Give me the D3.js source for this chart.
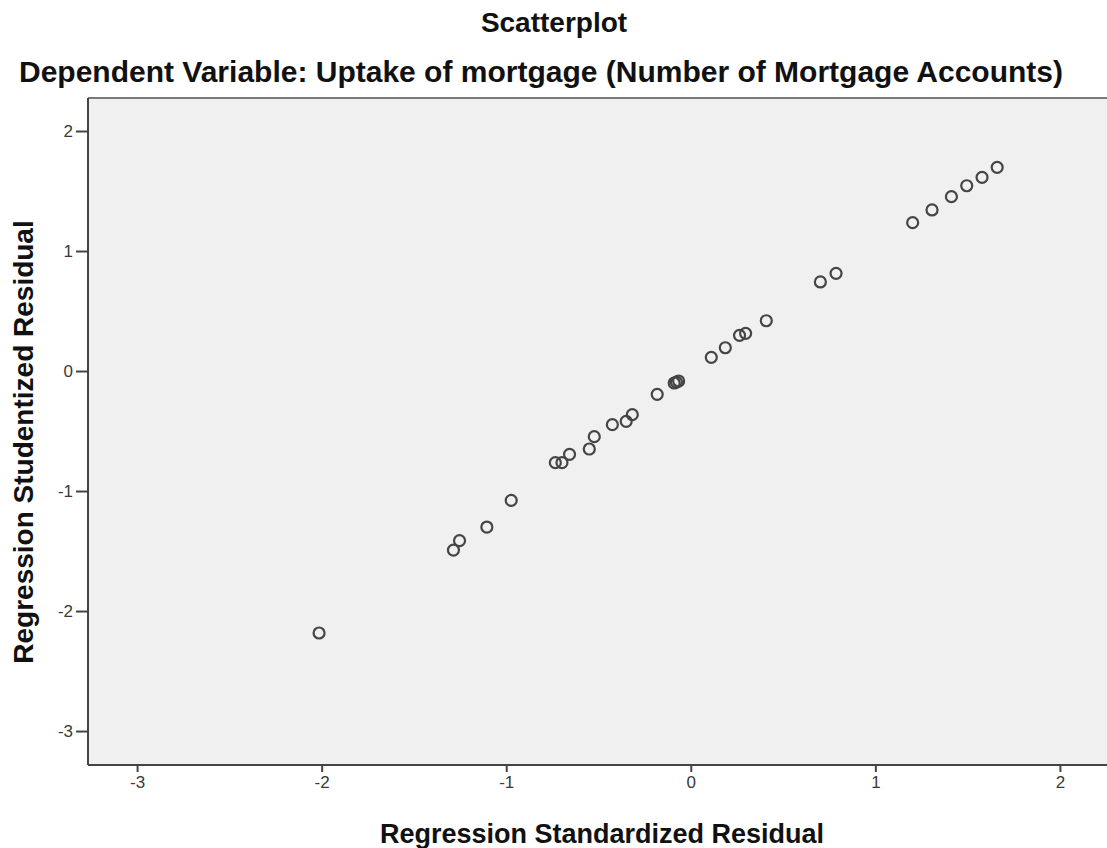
<!DOCTYPE html>
<html>
<head>
<meta charset="utf-8">
<script src="https://cdn.jsdelivr.net/npm/d3@7"></script>
<style>
  html, body { margin: 0; padding: 0; background: #fff; }
  svg { display: block; }
  text { font-family: "Liberation Sans", Arial, sans-serif; }
</style>
</head>
<body>
<div id="chart"></div>
<script>
// Standardized vs. studentized residuals from the regression on mortgage uptake
const standardized = [
  -2.014, -1.286, -1.253, -1.105, -0.973,
  -0.734, -0.698, -0.657, -0.550, -0.523,
  -0.425, -0.350, -0.317, -0.182,
  -0.090, -0.078, -0.066,
  0.111, 0.187, 0.264, 0.297, 0.409,
  0.702, 0.787,
  1.202, 1.307, 1.412, 1.495, 1.578, 1.660
];
const studentized = [
  -2.183, -1.492, -1.414, -1.300, -1.078,
  -0.764, -0.764, -0.694, -0.650, -0.547,
  -0.447, -0.419, -0.364, -0.194,
  -0.100, -0.092, -0.083,
  0.114, 0.194, 0.297, 0.314, 0.419,
  0.742, 0.814,
  1.236, 1.342, 1.453, 1.544, 1.614, 1.697
];
const xTicks = [-3, -2, -1, 0, 1, 2];
const yTicks = [-3, -2, -1, 0, 1, 2];

const title = "Scatterplot";
const subtitle = "Dependent Variable: Uptake of mortgage (Number of Mortgage Accounts)";
const xTitle = "Regression Standardized Residual";
const yTitle = "Regression Studentized Residual";

const W = 1107, H = 848;
const plot = { left: 88, top: 98, right: 1107, bottom: 765 };

const svg = d3.select("#chart").append("svg")
  .attr("width", W).attr("height", H);

const x = d3.scaleLinear().domain([-3.266, 2.255]).range([plot.left, plot.right]);
const y = d3.scaleLinear().domain([-3.283, 2.275]).range([plot.bottom, plot.top]);

// plot background
svg.append("rect")
  .attr("x", plot.left).attr("y", plot.top)
  .attr("width", plot.right - plot.left).attr("height", plot.bottom - plot.top)
  .attr("fill", "#f0f0f0");

// top frame line
svg.append("line")
  .attr("x1", plot.left).attr("x2", plot.right)
  .attr("y1", plot.top).attr("y2", plot.top)
  .attr("stroke", "#7a7a7a").attr("stroke-width", 2);

// axes (plain hyphen-minus in labels)
const fmt = d => String(d);
const xAxis = d3.axisBottom(x).tickValues(xTicks).tickSize(7).tickPadding(4).tickFormat(fmt);
const yAxis = d3.axisLeft(y).tickValues(yTicks).tickSize(12).tickPadding(3).tickFormat(fmt);

const gx = svg.append("g").attr("transform", `translate(0,${plot.bottom})`).call(xAxis);
const gy = svg.append("g").attr("transform", `translate(${plot.left},0)`).call(yAxis);

[gx, gy].forEach(g => {
  g.attr("font-size", null).attr("font-family", null);
  g.select(".domain").attr("stroke", "#444").attr("stroke-width", 2);
  g.selectAll(".tick line").attr("stroke", "#444").attr("stroke-width", 2);
  g.selectAll(".tick text")
    .attr("fill", "#3a3a3a")
    .attr("font-size", 17)
    .attr("font-family", "'Liberation Sans', Arial, sans-serif");
});
gx.select(".domain").attr("d", `M${plot.left},0H${plot.right}`);
gy.select(".domain").attr("d", `M0,${plot.bottom}V${plot.top}`);

// points
const pts = standardized.map((v, i) => ({ x: v, y: studentized[i] }));
svg.append("g")
  .selectAll("circle")
  .data(pts)
  .join("circle")
  .attr("cx", d => x(d.x))
  .attr("cy", d => y(d.y))
  .attr("r", 5.5)
  .attr("fill", "none")
  .attr("stroke", "#454545")
  .attr("stroke-width", 2.2);

// titles
svg.append("text")
  .attr("x", 554).attr("y", 32)
  .attr("text-anchor", "middle")
  .attr("font-weight", "bold").attr("font-size", 28)
  .attr("fill", "#111")
  .text(title);

svg.append("text")
  .attr("x", 541).attr("y", 82)
  .attr("text-anchor", "middle")
  .attr("font-weight", "bold").attr("font-size", 30)
  .attr("fill", "#111")
  .text(subtitle);

svg.append("text")
  .attr("x", 602).attr("y", 843)
  .attr("text-anchor", "middle")
  .attr("font-weight", "bold").attr("font-size", 27)
  .attr("fill", "#111")
  .text(xTitle);

svg.append("text")
  .attr("transform", `translate(33,442) rotate(-90)`)
  .attr("text-anchor", "middle")
  .attr("font-weight", "bold").attr("font-size", 28)
  .attr("fill", "#111")
  .text(yTitle);
</script>
</body>
</html>
